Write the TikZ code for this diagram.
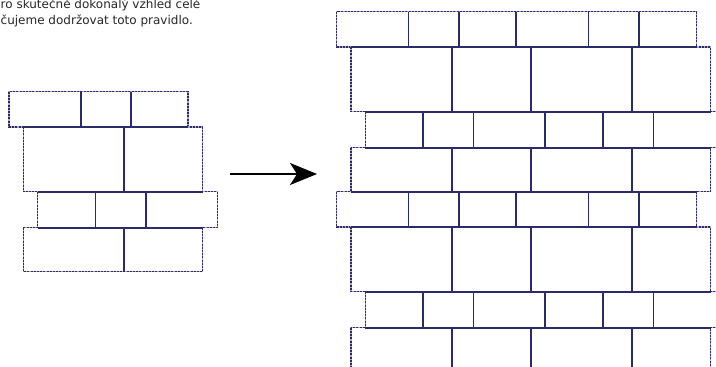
\documentclass[tikz,border=0pt]{standalone}
\usepackage{fontspec}
\setsansfont{DejaVu Sans}
\usetikzlibrary{arrows.meta}
\definecolor{brickblue}{RGB}{44,43,106}
\tikzset{
x=1pt, y=-1pt, % pixel-like units, y grows downwards
brick/.style={draw=brickblue, line width=1.2pt, dash pattern=on 2pt off 1.2pt,
  preaction={draw=brickblue!40, solid, line width=1.2pt}}, % free edge of a brick
joint/.style={draw=brickblue, line width=1.6pt}, % edge shared by two bricks
note/.style={font=\sffamily\fontsize{12}{16.5}\selectfont, align=left, inner sep=0pt, text=black!85},
}
% one course of bricks: top, bottom, left, right, inner joints
\newcommand{\brickrow}[5]{%
  \draw[brick] (#3,#1) rectangle (#4,#2);
  \foreach \jx in {#5} {\draw[joint] (\jx,#1) -- (\jx,#2);}
}
% bed joint between two courses: height, from, to
\newcommand{\bedjoint}[3]{\draw[joint] (#2,#1) -- (#3,#1);}

\begin{document}
\begin{tikzpicture}
    \useasboundingbox (0,0) rectangle (716,367);
    \clip (0,0) rectangle (716,367);

    \node[note, anchor=north west] (rule) at (0.5,-1.5)
        {ro skutečně dokonalý vzhled celé\\čujeme dodržovat toto pravidlo.};

    % small wall
    \begin{scope}[shift={(9,91.7)}]
        \brickrow{0}{35.3}{0}{179}{71.7,122}
        \brickrow{35.3}{100}{14.3}{193.7}{115}
        \brickrow{100}{136}{28.7}{208.3}{86.3,136.7}
        \brickrow{136}{180}{14.3}{193.7}{115}
        \bedjoint{35.3}{14.3}{179}
        \bedjoint{100}{28.7}{193.7}
        \bedjoint{136}{28.7}{193.7}
    \end{scope}

    % whole wall
    \begin{scope}[shift={(336.7,11.7)}]
        \foreach \dy in {0,180} {
            \begin{scope}[shift={(0,\dy)}]
                \brickrow{0}{35.3}{0}{360}{71.7,122,179.3,251.7,302.3}
                \brickrow{35.3}{100}{14.3}{374}{115,194.3,295.3}
                \brickrow{100}{136}{28.7}{388.3}{86.3,136.7,208.3,266.3,316.7}
                \brickrow{136}{180}{14.3}{374}{115,194.3,295.3}
                \bedjoint{35.3}{14.3}{360}
                \bedjoint{100}{28.7}{374}
                \bedjoint{136}{28.7}{374}
            \end{scope}
        }
        \bedjoint{180}{14.3}{360}
    \end{scope}

    \coordinate (from) at (230,174);
    \coordinate (to) at (317,174);
    \draw[line width=2pt, -{Stealth[length=27pt, width=22pt, inset=7pt]}] (from) -- (to);
\end{tikzpicture}
\end{document}
